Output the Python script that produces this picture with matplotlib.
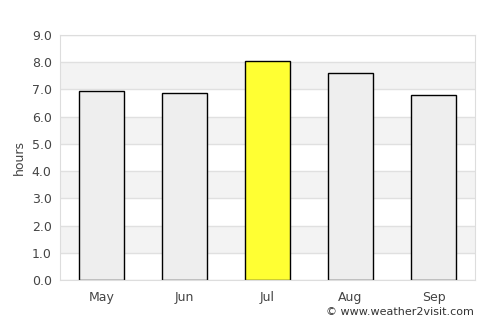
import matplotlib
matplotlib.use("Agg")
import matplotlib.pyplot as plt

months = ["May", "Jun", "Jul", "Aug", "Sep"]
sunshine_hours = [6.94, 6.86, 8.03, 7.59, 6.79]
highlight = "Jul"
y_ticks = [0, 1, 2, 3, 4, 5, 6, 7, 8, 9]

fig = plt.figure(figsize=(5, 3.25), dpi=100)
ax = fig.add_axes([0.12, 0.1385, 0.83, 0.7538])

# alternating background bands
for lo in range(1, 9, 2):
    ax.axhspan(lo, lo + 1, color="#f3f3f3", zorder=0, lw=0)
for t in y_ticks:
    ax.axhline(t, color="#e0e0e0", lw=1, zorder=0.5)

colors = ["#ffff33" if m == highlight else "#eeeeee" for m in months]
ax.bar(range(len(months)), sunshine_hours, width=0.54, color=colors,
       edgecolor="black", linewidth=1, zorder=2)

ax.set_xlim(-0.5, len(months) - 0.5)
ax.set_ylim(0, 9)
ax.set_xticks(range(len(months)))
ax.set_xticklabels(months)
ax.set_yticks(y_ticks)
ax.set_yticklabels([f"{t:.1f}" for t in y_ticks])
ax.tick_params(length=0, labelsize=9, colors="#444444", pad=6)
ax.tick_params(axis="x", pad=8)
ax.set_ylabel("hours", fontsize=9, color="#444444", labelpad=4)
for s in ax.spines.values():
    s.set_color("#dddddd")

fig.text(0.948, 0.025, "© www.weather2visit.com", ha="right", va="bottom",
         fontsize=8, color="#333333")

fig.savefig("out.png", dpi=100)
